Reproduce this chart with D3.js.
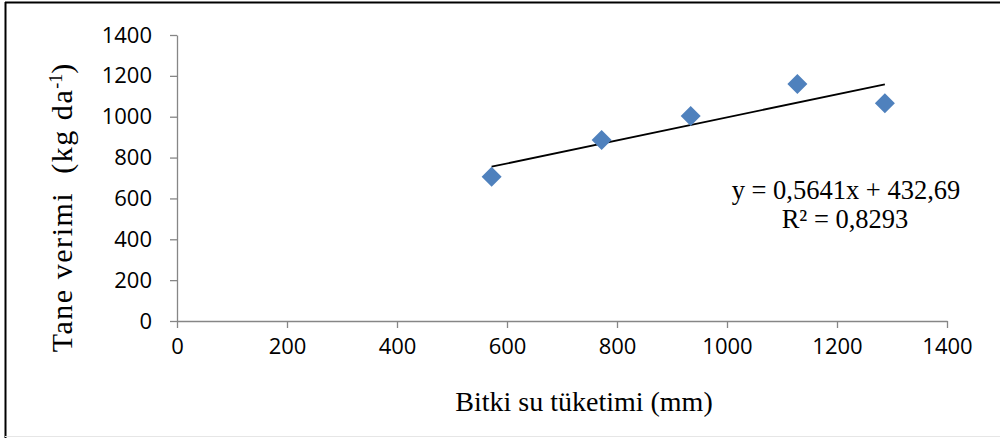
<!DOCTYPE html>
<html>
<head>
<meta charset="utf-8">
<script src="https://cdn.jsdelivr.net/npm/d3@7"></script>
<style>
  html, body { margin: 0; padding: 0; background: #fff; }
  svg { display: block; }
</style>
</head>
<body>
<svg id="chart" width="1000" height="438"></svg>
<script>
// Water consumption (mm) vs grain yield (kg da-1)
const waterUse = [572, 772, 934, 1128, 1287];
const grainYield = [706, 886, 1003, 1160, 1066];
const xTicks = [0, 200, 400, 600, 800, 1000, 1200, 1400];
const yTicks = [0, 200, 400, 600, 800, 1000, 1200, 1400];
const slope = 0.5641;
const intercept = 432.69;
const eqLabel = "y = 0,5641x + 432,69";
const r2Label = "R² = 0,8293";

const svg = d3.select("#chart");

// outer frame
svg.append("line").attr("x1", 5.5).attr("x2", 5.5).attr("y1", 2).attr("y2", 438)
  .attr("stroke", "#000").attr("stroke-width", 2);
svg.append("line").attr("x1", 5).attr("x2", 1000).attr("y1", 2.5).attr("y2", 2.5)
  .attr("stroke", "#000").attr("stroke-width", 2);
svg.append("line").attr("x1", 5).attr("x2", 1000).attr("y1", 436.5).attr("y2", 436.5)
  .attr("stroke", "#e6e6e6").attr("stroke-width", 1);

const x = d3.scaleLinear().domain([0, 1400]).range([177, 947]);
const y = d3.scaleLinear().domain([0, 1400]).range([321, 35]);

const axisColor = "#868686";
const tickFont = "'Open Sans', 'DejaVu Sans', sans-serif";

const xAxis = svg.append("g").attr("transform", "translate(0,321)")
  .call(d3.axisBottom(x).tickValues(xTicks).tickSize(7).tickSizeOuter(0).tickPadding(10)
    .tickFormat(d3.format("d")));
const yAxis = svg.append("g").attr("transform", "translate(177,0)")
  .call(d3.axisLeft(y).tickValues(yTicks).tickSize(7).tickSizeOuter(0).tickPadding(18)
    .tickFormat(d3.format("d")));

[xAxis, yAxis].forEach(g => {
  g.select(".domain").attr("stroke", axisColor).attr("stroke-width", 1.3);
  g.selectAll(".tick line").attr("stroke", axisColor).attr("stroke-width", 1.3);
  g.selectAll(".tick text").attr("fill", "#000").attr("font-family", tickFont)
    .attr("font-size", 22);
});

// linear trendline across the observed range
const xr = d3.extent(waterUse);
const line = d3.line().x(d => x(d)).y(d => y(slope * d + intercept));
svg.append("path").datum(xr).attr("d", line)
  .attr("fill", "none").attr("stroke", "#000").attr("stroke-width", 1.8);

// diamond markers
const diamond = d3.symbol(d3.symbolSquare, 200);
svg.append("g").selectAll("path").data(waterUse).join("path")
  .attr("d", diamond)
  .attr("transform", (d, i) => `translate(${x(d)},${y(grainYield[i])}) rotate(45)`)
  .attr("fill", "#4F81BD");

// regression equation
const serif = "'Liberation Serif', 'Times New Roman', serif";
svg.append("text").attr("x", 846).attr("y", 199).attr("text-anchor", "middle")
  .attr("font-family", serif).attr("font-size", 26.5).text(eqLabel);
svg.append("text").attr("x", 845).attr("y", 228).attr("text-anchor", "middle")
  .attr("font-family", serif).attr("font-size", 26.5).text(r2Label);

// axis titles
svg.append("text").attr("x", 584).attr("y", 411).attr("text-anchor", "middle")
  .attr("font-family", serif).attr("font-size", 28).text("Bitki su tüketimi (mm)");

const yt = svg.append("text").attr("transform", "translate(72,208) rotate(-90)")
  .attr("text-anchor", "middle").attr("font-family", serif).attr("font-size", 30)
  .attr("xml:space", "preserve");
yt.append("tspan").attr("textLength", 262).attr("lengthAdjust", "spacing").text("Tane verimi  (kg da");
yt.append("tspan").attr("baseline-shift", "super").attr("font-size", 18).text("-1");
yt.append("tspan").text(")");
</script>
</body>
</html>
